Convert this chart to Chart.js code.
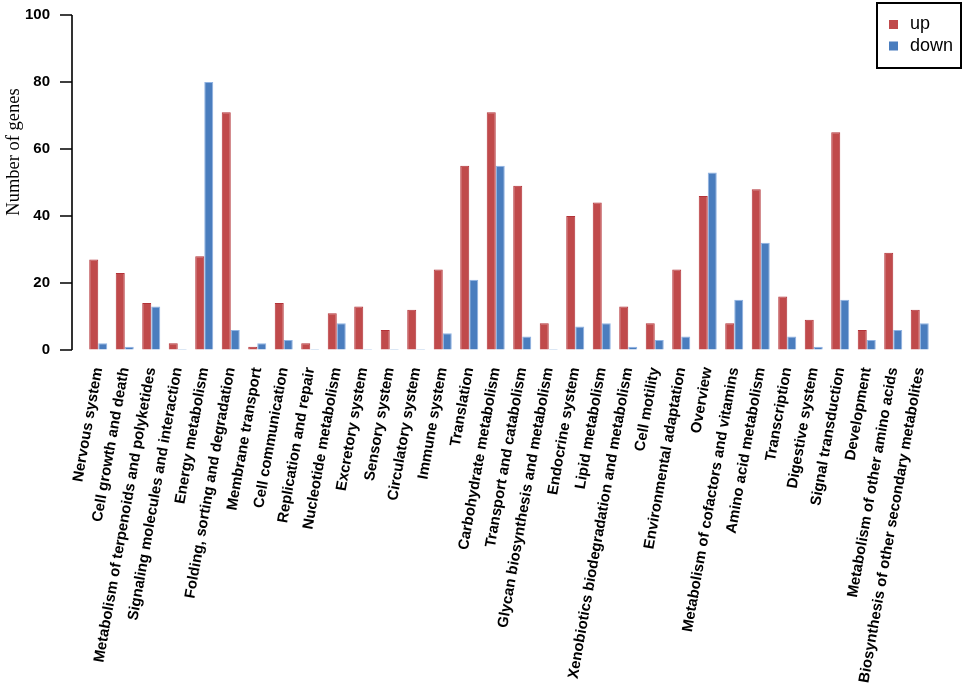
<!DOCTYPE html>
<html>
<head>
<meta charset="utf-8">
<script src="https://cdn.jsdelivr.net/npm/chart.js@4.4.1/dist/chart.umd.min.js"></script>
<style>
    html, body { margin: 0; padding: 0; background: #fff; }
    #wrap { width: 964px; height: 693px; position: relative; }
</style>
</head>
<body>
<div id="wrap"><canvas id="myChart"></canvas></div>
<script>
const categories = [
    'Nervous system', 'Cell growth and death', 'Metabolism of terpenoids and polyketides',
    'Signaling molecules and interaction', 'Energy metabolism', 'Folding, sorting and degradation',
    'Membrane transport', 'Cell communication', 'Replication and repair', 'Nucleotide metabolism',
    'Excretory system', 'Sensory system', 'Circulatory system', 'Immune system', 'Translation',
    'Carbohydrate metabolism', 'Transport and catabolism', 'Glycan biosynthesis and metabolism',
    'Endocrine system', 'Lipid metabolism', 'Xenobiotics biodegradation and metabolism',
    'Cell motility', 'Environmental adaptation', 'Overview', 'Metabolism of cofactors and vitamins',
    'Amino acid metabolism', 'Transcription', 'Digestive system', 'Signal transduction',
    'Development', 'Metabolism of other amino acids', 'Biosynthesis of other secondary metabolites'
];
const upGenes   = [27, 23, 14, 2, 28, 71, 1, 14, 2, 11, 13, 6, 12, 24, 55, 71, 49, 8, 40, 44, 13, 8, 24, 46, 8, 48, 16, 9, 65, 6, 29, 12];
const downGenes = [2, 1, 13, 0, 80, 6, 2, 3, 0, 8, 0, 0, 0, 5, 21, 55, 4, 0, 7, 8, 1, 3, 4, 53, 15, 32, 4, 1, 15, 3, 6, 8];
const yTicks = [0, 20, 40, 60, 80, 100];

// axis line + tick marks sit a little left of the bars, so draw them by hand
const yAxisLine = {
    id: 'yAxisLine',
    afterDraw(chart) {
        const ctx = chart.ctx;
        const y = chart.scales.y;
        const x0 = chart.chartArea.left - 13;
        ctx.save();
        ctx.strokeStyle = '#000';
        ctx.lineWidth = 1.6;
        ctx.beginPath();
        ctx.moveTo(x0, y.getPixelForValue(yTicks[0]));
        ctx.lineTo(x0, y.getPixelForValue(yTicks[yTicks.length - 1]));
        yTicks.forEach(function(v) {
            const py = y.getPixelForValue(v);
            ctx.moveTo(x0 - 12, py);
            ctx.lineTo(x0, py);
        });
        ctx.stroke();

        // axis title
        ctx.translate(14, 152);
        ctx.rotate(-Math.PI / 2);
        ctx.fillStyle = '#000';
        ctx.font = '18.5px "Liberation Serif", serif';
        ctx.textAlign = 'center';
        ctx.textBaseline = 'middle';
        ctx.fillText('Number of genes', 0, 0);
        ctx.restore();
    }
};

// boxed legend in the top right corner
const boxLegend = {
    id: 'boxLegend',
    afterDraw(chart) {
        const ctx = chart.ctx;
        ctx.save();
        ctx.strokeStyle = '#000';
        ctx.lineWidth = 2;
        ctx.strokeRect(877, 3, 84, 65);
        ctx.font = '18px "Liberation Sans", sans-serif';
        ctx.textBaseline = 'middle';
        chart.data.datasets.forEach(function(ds, i) {
            const cy = 24.5 + i * 21.5;
            ctx.fillStyle = ds.backgroundColor;
            ctx.fillRect(889, cy - 4.5, 9, 9);
            ctx.fillStyle = '#000';
            ctx.fillText(ds.label, 910, cy);
        });
        ctx.restore();
    }
};

const data = {
    labels: categories,
    datasets: [{
        label: 'up',
        data: upGenes,
        backgroundColor: '#C04A4B',
        borderColor: '#B33338',
        borderWidth: 1,
        minBarLength: 1
    }, {
        label: 'down',
        data: downGenes,
        backgroundColor: '#4A7DBE',
        borderColor: '#8FB3E3',
        borderWidth: 1,
        minBarLength: 1
    }]
};

const config = {
    type: 'bar',
    data: data,
    options: {
        responsive: true,
        maintainAspectRatio: false,
        animation: false,
        layout: {
            padding: { top: 15, right: 31, left: 0, bottom: 0 }
        },
        datasets: {
            bar: {
                categoryPercentage: 0.68,
                barPercentage: 1.0
            }
        },
        plugins: {
            legend: { display: false },
            tooltip: { enabled: false }
        },
        scales: {
            x: {
                grid: { display: false, drawTicks: false },
                border: { display: false },
                afterFit: function(scale) { scale.height = 343; },
                ticks: {
                    autoSkip: false,
                    minRotation: 80,
                    maxRotation: 80,
                    padding: 16,
                    color: '#000',
                    font: { family: '"Liberation Sans", sans-serif', size: 15, weight: 'bold' }
                }
            },
            y: {
                min: 0,
                max: 100,
                // invisible tick marks only push the labels away from the bars
                grid: { drawOnChartArea: false, color: 'transparent', tickLength: 35 },
                border: { display: false },
                afterFit: function(scale) { scale.width = 85; },
                afterBuildTicks: function(scale) {
                    scale.ticks = yTicks.map(function(v) { return { value: v }; });
                },
                ticks: {
                    padding: 0,
                    color: '#000',
                    font: { family: '"Liberation Sans", sans-serif', size: 15, weight: 'bold' }
                }
            }
        }
    },
    plugins: [yAxisLine, boxLegend]
};

const ctx = document.getElementById('myChart').getContext('2d');
new Chart(ctx, config);
</script>
</body>
</html>
